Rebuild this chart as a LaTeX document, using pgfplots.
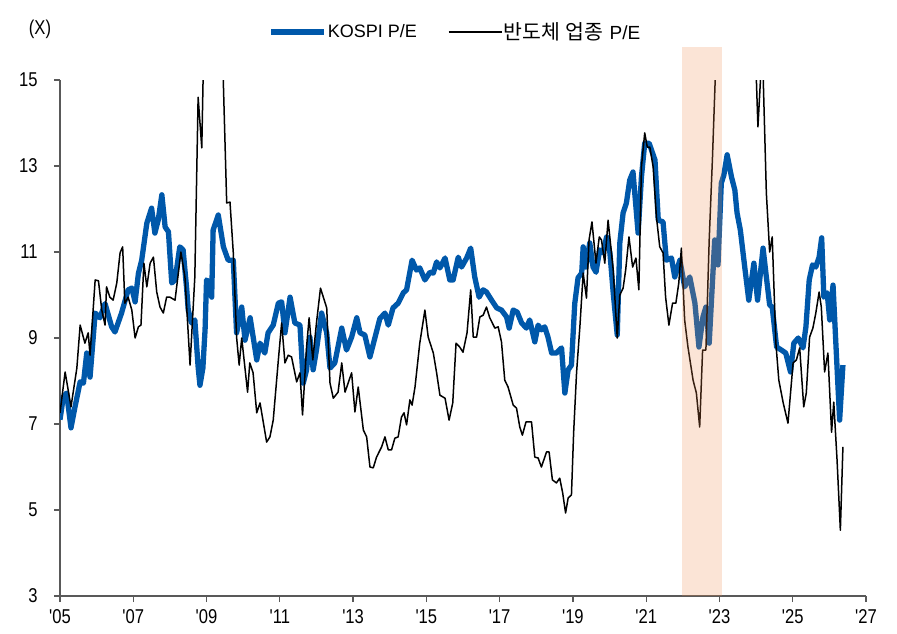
\documentclass[border=0pt]{standalone}
\usepackage{pgfplots}
\pgfplotsset{compat=1.18}
\usepackage{fontspec}
\setmainfont{Liberation Sans}[Ligatures=TeXOff, FakeStretch=0.83]
\newfontfamily\legendfont{Liberation Sans}
\newfontfamily\kr{Noto Sans CJK KR}
\definecolor{kospiblue}{RGB}{0,88,170}
\definecolor{axisgray}{RGB}{89,89,89}
\definecolor{shadeorange}{RGB}{240,140,80}

\begin{document}
\begin{tikzpicture}
\useasboundingbox (-60pt,-37pt) rectangle (837pt,596pt);
\begin{axis}[
  at={(0pt,0pt)}, anchor=south west,
  scale only axis, width=806pt, height=516pt,
  xmin=2005, xmax=2027, ymin=3, ymax=15,
  axis x line*=bottom, axis y line*=left,
  axis line style={axisgray, line width=1.6pt},
  tick align=outside, major tick length=6pt,
  tick style={axisgray, line width=1.2pt},
  xtick={2005,2007,2009,2011,2013,2015,2017,2019,2021,2023,2025,2027},
  xticklabels={'05,'07,'09,'11,'13,'15,'17,'19,'21,'23,'25,'27},
  ytick={3,5,7,9,11,13,15},
  tick label style={font=\fontsize{20}{22}\selectfont},
  yticklabel style={xshift=-13pt},
  xticklabel style={yshift=-4pt},
  /pgf/number format/assume math mode=true,
  ylabel={(X)},
  ylabel style={rotate=-90, at={(axis description cs:-0.0248,1.0979)}, anchor=center, font=\fontsize{20}{22}\selectfont},
  legend columns=2,
  legend cell align=left,
  legend image code/.code={\draw[#1] (0pt,0pt) -- (53pt,0pt);},
  legend style={draw=none, fill=none, at={(axis description cs:0.4900,1.093)}, anchor=center,
    font=\legendfont\fontsize{18}{22}\selectfont, nodes={inner xsep=1pt},
    /tikz/every even column/.append style={column sep=30pt}},
]
\addplot[kospiblue, line width=5.3pt, line join=round] coordinates {
(2005.00,7.10) (2005.09,7.63) (2005.18,7.72) (2005.30,6.91) (2005.41,7.40) (2005.55,7.98) (2005.64,7.95) (2005.73,8.65) (2005.82,8.09) (2005.96,9.58) (2006.09,9.47) (2006.23,9.80) (2006.41,9.26) (2006.50,9.14) (2006.68,9.58) (2006.86,10.12) (2006.96,10.16) (2007.05,9.84) (2007.14,10.50) (2007.23,10.81) (2007.37,11.67) (2007.50,12.02) (2007.59,11.44) (2007.68,11.74) (2007.78,12.33) (2007.87,11.58) (2007.96,11.47) (2008.05,10.28) (2008.14,10.35) (2008.27,11.12) (2008.36,11.05) (2008.46,10.12) (2008.50,9.65) (2008.59,9.35) (2008.68,9.42) (2008.77,8.33) (2008.82,7.90) (2008.90,8.30) (2008.96,9.20) (2009.00,10.35) (2009.05,10.30) (2009.14,9.95) (2009.18,11.51) (2009.32,11.86) (2009.46,11.12) (2009.59,10.81) (2009.73,10.81) (2009.82,9.12) (2009.96,9.72) (2010.05,8.95) (2010.19,9.47) (2010.37,8.49) (2010.46,8.88) (2010.59,8.65) (2010.68,9.12) (2010.82,9.30) (2010.96,9.81) (2011.05,9.84) (2011.14,9.12) (2011.28,9.95) (2011.41,9.35) (2011.55,9.30) (2011.64,7.95) (2011.73,8.26) (2011.82,9.02) (2011.91,8.26) (2012.00,8.72) (2012.14,9.58) (2012.28,9.12) (2012.37,8.30) (2012.50,8.42) (2012.69,9.23) (2012.82,8.72) (2012.96,9.02) (2013.10,9.47) (2013.19,9.12) (2013.32,9.07) (2013.46,8.56) (2013.60,9.02) (2013.73,9.45) (2013.87,9.58) (2013.96,9.30) (2014.09,9.70) (2014.23,9.81) (2014.37,10.05) (2014.46,10.12) (2014.61,10.81) (2014.73,10.58) (2014.82,10.63) (2014.96,10.35) (2015.10,10.53) (2015.19,10.51) (2015.28,10.77) (2015.37,10.63) (2015.51,10.86) (2015.64,10.35) (2015.73,10.35) (2015.87,10.88) (2015.96,10.65) (2016.10,10.86) (2016.21,11.09) (2016.32,10.42) (2016.44,9.95) (2016.55,10.12) (2016.64,10.07) (2016.78,9.88) (2016.92,9.70) (2017.05,9.65) (2017.19,9.49) (2017.26,9.23) (2017.37,9.65) (2017.48,9.60) (2017.60,9.35) (2017.73,9.23) (2017.82,9.42) (2017.96,8.91) (2018.05,9.30) (2018.14,9.19) (2018.23,9.26) (2018.32,9.02) (2018.42,8.65) (2018.55,8.65) (2018.69,8.77) (2018.78,7.72) (2018.87,8.26) (2018.96,8.37) (2019.05,9.80) (2019.14,10.40) (2019.24,10.51) (2019.28,11.12) (2019.35,10.65) (2019.46,11.21) (2019.55,10.65) (2019.63,10.53) (2019.73,11.05) (2019.82,10.98) (2019.92,11.35) (2020.01,10.98) (2020.10,10.05) (2020.21,9.07) (2020.28,11.21) (2020.37,11.91) (2020.46,12.14) (2020.55,12.67) (2020.64,12.86) (2020.78,11.44) (2020.87,12.74) (2020.96,13.53) (2021.08,13.53) (2021.24,13.14) (2021.33,11.74) (2021.46,11.70) (2021.55,10.81) (2021.69,10.86) (2021.78,10.42) (2021.92,10.81) (2022.05,10.19) (2022.19,10.42) (2022.33,9.81) (2022.44,8.79) (2022.55,9.49) (2022.63,9.72) (2022.72,8.88) (2022.87,11.28) (2022.96,10.70) (2023.05,12.60) (2023.12,12.79) (2023.21,13.26) (2023.33,12.74) (2023.42,12.44) (2023.48,11.91) (2023.57,11.51) (2023.69,10.65) (2023.80,9.88) (2023.94,10.74) (2024.04,9.88) (2024.19,11.09) (2024.28,10.42) (2024.37,9.77) (2024.44,9.72) (2024.56,8.79) (2024.69,8.72) (2024.81,8.65) (2024.94,8.21) (2025.03,8.88) (2025.15,9.00) (2025.28,8.77) (2025.36,9.26) (2025.45,10.35) (2025.54,10.70) (2025.63,10.65) (2025.72,10.88) (2025.79,11.33) (2025.85,9.95) (2025.94,10.05) (2026.01,9.42) (2026.10,10.23) (2026.19,8.65) (2026.28,7.09) (2026.37,8.37)
};
\addlegendentry{KOSPI P/E}
\addplot[black, line width=1.5pt, line join=round] coordinates {
(2005.00,7.26) (2005.14,8.21) (2005.30,7.40) (2005.46,8.30) (2005.55,9.30) (2005.68,8.88) (2005.77,9.12) (2005.82,8.60) (2005.96,10.35) (2006.05,10.33) (2006.14,9.65) (2006.23,9.30) (2006.27,10.19) (2006.36,9.95) (2006.45,9.88) (2006.55,10.28) (2006.64,10.98) (2006.71,11.12) (2006.77,9.81) (2006.86,9.95) (2006.96,9.65) (2007.05,9.00) (2007.14,9.26) (2007.21,9.30) (2007.29,10.74) (2007.37,10.19) (2007.46,10.74) (2007.55,10.88) (2007.64,10.07) (2007.73,9.72) (2007.82,9.58) (2007.91,9.95) (2008.00,9.95) (2008.14,9.88) (2008.30,11.00) (2008.41,10.42) (2008.55,8.37) (2008.68,10.42) (2008.77,14.60) (2008.87,13.42) (2008.95,17.00) (2009.10,18.50) (2009.30,17.00) (2009.45,15.20) (2009.55,12.14) (2009.64,12.16) (2009.73,10.98) (2009.82,9.02) (2009.89,8.37) (2009.96,9.00) (2010.12,7.74) (2010.18,8.42) (2010.27,8.19) (2010.37,7.26) (2010.46,7.49) (2010.64,6.58) (2010.73,6.70) (2010.82,7.09) (2010.96,8.49) (2011.05,9.35) (2011.14,8.42) (2011.23,8.60) (2011.32,8.56) (2011.46,7.98) (2011.55,8.19) (2011.62,7.21) (2011.73,8.79) (2011.80,9.47) (2011.90,8.49) (2012.00,9.35) (2012.11,10.16) (2012.28,9.70) (2012.37,7.95) (2012.46,7.60) (2012.59,7.74) (2012.69,8.42) (2012.78,7.74) (2012.96,8.19) (2013.05,7.28) (2013.14,7.86) (2013.28,6.86) (2013.37,6.70) (2013.46,6.00) (2013.55,5.98) (2013.64,6.23) (2013.78,6.47) (2013.87,6.70) (2013.96,6.40) (2014.05,6.40) (2014.14,6.67) (2014.23,6.70) (2014.32,7.16) (2014.39,7.26) (2014.46,6.98) (2014.55,7.56) (2014.61,7.44) (2014.69,7.86) (2014.82,8.88) (2014.96,9.65) (2015.05,9.02) (2015.19,8.65) (2015.28,8.19) (2015.37,7.67) (2015.51,7.60) (2015.62,7.09) (2015.72,7.49) (2015.81,8.88) (2015.91,8.79) (2016.00,8.67) (2016.11,9.12) (2016.21,10.12) (2016.28,9.02) (2016.37,9.02) (2016.46,9.49) (2016.55,9.53) (2016.64,9.72) (2016.73,9.47) (2016.87,9.23) (2016.96,9.26) (2017.05,8.91) (2017.14,8.02) (2017.23,7.86) (2017.37,7.44) (2017.46,7.37) (2017.55,6.93) (2017.62,6.74) (2017.72,7.05) (2017.87,7.05) (2017.96,6.23) (2018.05,6.21) (2018.14,6.00) (2018.28,6.35) (2018.35,6.35) (2018.44,5.70) (2018.55,5.63) (2018.64,5.74) (2018.72,5.40) (2018.80,4.93) (2018.87,5.28) (2018.96,5.35) (2019.02,6.80) (2019.10,8.20) (2019.19,9.26) (2019.28,10.51) (2019.37,9.93) (2019.44,11.28) (2019.52,11.70) (2019.63,10.74) (2019.72,11.35) (2019.78,11.28) (2019.87,10.74) (2019.96,11.74) (2020.10,10.58) (2020.21,9.00) (2020.28,10.00) (2020.37,10.16) (2020.44,10.58) (2020.53,11.35) (2020.63,10.65) (2020.72,10.86) (2020.80,10.12) (2020.87,12.98) (2020.96,13.77) (2021.03,13.44) (2021.10,13.44) (2021.19,12.98) (2021.28,11.81) (2021.37,11.12) (2021.46,10.98) (2021.53,9.95) (2021.62,9.30) (2021.72,9.81) (2021.81,9.81) (2021.89,10.28) (2021.96,11.09) (2022.05,9.42) (2022.14,8.79) (2022.28,8.02) (2022.37,7.72) (2022.46,6.93) (2022.54,8.72) (2022.63,8.72) (2022.72,11.28) (2022.81,13.21) (2022.90,15.40) (2023.10,19.00) (2023.40,22.00) (2023.75,19.00) (2023.95,16.50) (2024.05,13.91) (2024.17,15.80) (2024.28,12.37) (2024.37,11.00) (2024.44,11.35) (2024.54,8.88) (2024.62,8.02) (2024.74,7.49) (2024.87,7.02) (2025.01,8.42) (2025.10,8.49) (2025.19,8.77) (2025.30,7.40) (2025.37,7.72) (2025.46,9.02) (2025.55,9.23) (2025.63,9.58) (2025.72,10.07) (2025.78,9.72) (2025.87,8.21) (2025.96,8.65) (2026.06,6.81) (2026.12,7.51) (2026.21,6.16) (2026.30,4.53) (2026.37,6.47)
};
\addlegendentry{{\kr\fontsize{20.5}{22}\selectfont 반도체}\hspace{6pt}{\kr\fontsize{20.5}{22}\selectfont 업종}\hspace{6pt}{\fontsize{19}{22}\selectfont P/E}}
\end{axis}
% shaded period, laid over the lines as in the original
\begin{axis}[
  at={(0pt,0pt)}, anchor=south west,
  scale only axis, width=806pt, height=516pt,
  xmin=2005, xmax=2027, ymin=3, ymax=15,
  hide axis, clip=false,
]
\addplot[draw=none, fill=shadeorange, fill opacity=0.235] coordinates {(2021.97,3) (2021.97,15.77) (2023.06,15.77) (2023.06,3)};
\end{axis}
\end{tikzpicture}
\end{document}
